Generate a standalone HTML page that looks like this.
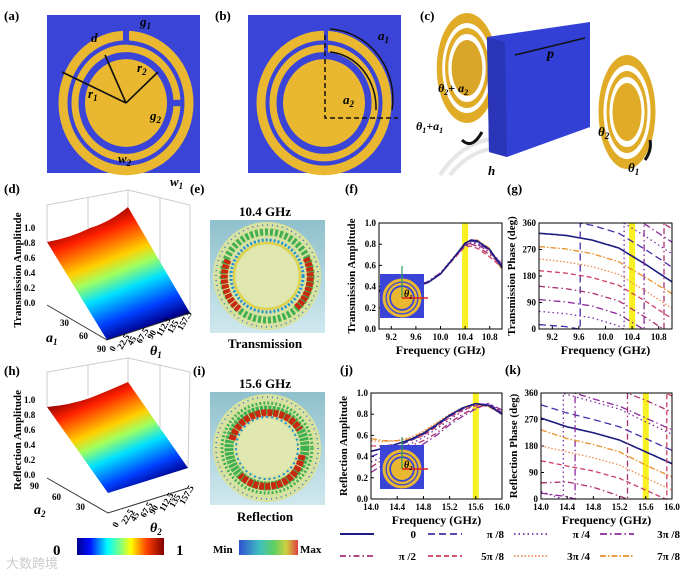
<!DOCTYPE html>
<html><head><meta charset="utf-8"><style>
html,body{margin:0;padding:0;background:#fff}
svg{display:block;font-family:"Liberation Serif",serif;font-weight:bold}
</style></head><body>
<svg id="fig" width="688" height="573" viewBox="0 0 688 573">
<defs>
<linearGradient id="jet" x1="0" y1="0" x2="1" y2="0">
<stop offset="0" stop-color="#00008f"/><stop offset="0.15" stop-color="#0010ff"/><stop offset="0.35" stop-color="#00ffff"/><stop offset="0.5" stop-color="#80ff80"/><stop offset="0.62" stop-color="#ffff00"/><stop offset="0.8" stop-color="#ff4000"/><stop offset="1" stop-color="#800000"/></linearGradient>
<linearGradient id="surfD" gradientUnits="userSpaceOnUse" x1="95" y1="215" x2="140" y2="330">
<stop offset="0" stop-color="#8a0000"/><stop offset="0.15" stop-color="#ff2000"/><stop offset="0.38" stop-color="#ffd000"/><stop offset="0.5" stop-color="#a0ff60"/><stop offset="0.65" stop-color="#00e0ff"/><stop offset="0.85" stop-color="#0040ff"/><stop offset="1" stop-color="#00008a"/></linearGradient>
<linearGradient id="surfH" gradientUnits="userSpaceOnUse" x1="95" y1="385" x2="140" y2="490">
<stop offset="0" stop-color="#8a0000"/><stop offset="0.15" stop-color="#ff2000"/><stop offset="0.38" stop-color="#ffd000"/><stop offset="0.5" stop-color="#a0ff60"/><stop offset="0.65" stop-color="#00e0ff"/><stop offset="0.85" stop-color="#0040ff"/><stop offset="1" stop-color="#00008a"/></linearGradient>
<linearGradient id="minmax" x1="0" y1="0" x2="1" y2="0">
<stop offset="0" stop-color="#3050d0"/><stop offset="0.35" stop-color="#40c0c0"/><stop offset="0.6" stop-color="#60d060"/><stop offset="0.8" stop-color="#d0d040"/><stop offset="1" stop-color="#e04040"/></linearGradient>
<linearGradient id="fieldbg" x1="0" y1="0" x2="0" y2="1"><stop offset="0" stop-color="#8fc0cc"/><stop offset="1" stop-color="#cfe8ee"/></linearGradient>
</defs>

<!-- (a) -->
<text x="4" y="20" font-size="13">(a)</text>
<g>
<rect x="47" y="15" width="153" height="158" fill="#3a45d8"/>
<g transform="translate(126,103) scale(1,1.07)">
<circle r="63" fill="none" stroke="#e9b830" stroke-width="9"/>
<circle r="51" fill="none" stroke="#e9b830" stroke-width="7"/>
<circle r="41" fill="#e9b830"/>
<rect x="-3" y="-70" width="6" height="12" fill="#3a45d8"/>
<rect x="46" y="-3" width="12" height="6" fill="#3a45d8"/>
</g>
<g stroke="#111" stroke-width="1.6" fill="none">
<line x1="126" y1="103" x2="62" y2="72"/><line x1="126" y1="103" x2="105" y2="55"/><line x1="126" y1="103" x2="158" y2="72"/>
</g>
<text x="88" y="98" font-size="13" font-style="italic">r<tspan font-size="9" dy="3">1</tspan></text>
<text x="137" y="72" font-size="13" font-style="italic">r<tspan font-size="9" dy="3">2</tspan></text>
<text x="91" y="42" font-size="13" font-style="italic">d</text>
<text x="140" y="26" font-size="13" font-style="italic">g<tspan font-size="9" dy="3">1</tspan></text>
<text x="150" y="120" font-size="13" font-style="italic">g<tspan font-size="9" dy="3">2</tspan></text>
<text x="118" y="163" font-size="13" font-style="italic">w<tspan font-size="9" dy="3">2</tspan></text>
<text x="170" y="186" font-size="13" font-style="italic">w<tspan font-size="9" dy="3">1</tspan></text>
</g>

<!-- (b) -->
<text x="215" y="20" font-size="13">(b)</text>
<g>
<rect x="248" y="15" width="153" height="158" fill="#3a45d8"/>
<g transform="translate(324,103) scale(1,1.07)">
<circle r="63" fill="none" stroke="#e9b830" stroke-width="9"/>
<circle r="51" fill="none" stroke="#e9b830" stroke-width="7"/>
<circle r="41" fill="#e9b830"/>
<rect x="0" y="-70" width="4" height="12" fill="#3a45d8"/>
<rect x="0" y="-57" width="4" height="10" fill="#3a45d8"/>
</g>
<g stroke="#111" stroke-width="1.5" fill="none">
<path d="M325 35 V118 H398" stroke-dasharray="5,3"/>
<path d="M330 29 A67 70 0 0 1 392 110"/><path d="M330 52 A50 56 0 0 1 376 110"/>
</g>
<text x="378" y="40" font-size="13" font-style="italic">a<tspan font-size="9" dy="3">1</tspan></text>
<text x="343" y="104" font-size="13" font-style="italic">a<tspan font-size="9" dy="3">2</tspan></text>
</g>

<!-- (c) -->
<text x="420" y="20" font-size="13">(c)</text>
<g>
<path d="M440 175 Q470 130 520 140 M450 175 Q478 140 520 150" stroke="#e6e6e6" stroke-width="4" fill="none"/>
<g transform="translate(467,68) scale(0.55,1)"><circle r="50" fill="none" stroke="#e0ac28" stroke-width="10"/><circle r="37" fill="none" stroke="#e0ac28" stroke-width="6"/><circle r="28" fill="#d9a628"/></g>
<path d="M487 37 L590 22 L590 127 L507 157 L489 152 Z" fill="#3340d6"/>
<path d="M487 37 L505 42 L507 157 L489 152 Z" fill="#2a35b8"/>
<g transform="translate(627,112) scale(0.5,1)"><circle r="52" fill="none" stroke="#e0ac28" stroke-width="10"/><circle r="38" fill="none" stroke="#e0ac28" stroke-width="6"/><circle r="29" fill="#e0ac28"/></g>
<path d="M515 55 L585 38" stroke="#111" stroke-width="1.5"/>
<text x="547" y="58" font-size="14" font-style="italic">p</text>
<text x="488" y="175" font-size="13" font-style="italic">h</text>
<text x="438" y="92" font-size="12" font-style="italic">θ<tspan font-size="8" dy="3">2</tspan><tspan dy="-3">+ a</tspan><tspan font-size="8" dy="3">2</tspan></text>
<text x="416" y="130" font-size="12" font-style="italic">θ<tspan font-size="8" dy="3">1</tspan><tspan dy="-3">+a</tspan><tspan font-size="8" dy="3">1</tspan></text>
<text x="598" y="136" font-size="13" font-style="italic">θ<tspan font-size="9" dy="3">2</tspan></text>
<text x="628" y="172" font-size="13" font-style="italic">θ<tspan font-size="9" dy="3">1</tspan></text>
<path d="M462 140 Q472 150 482 132" stroke="#111" stroke-width="3" fill="none"/>
<path d="M645 160 Q652 150 650 140" stroke="#111" stroke-width="3" fill="none"/>
</g>

<!-- (d) -->
<text x="4" y="193" font-size="13">(d)</text>
<g>
<path d="M47 242 L47 205 L128 190 L128 207 M128 190 L190 205 L190 313 M88 198 L88 228 M160 198 L160 262" stroke="#ccc" fill="none"/>
<path d="M47 242 Q70 238 90 228 Q110 222 128 207 L190 313 L107 340 Z" fill="url(#surfD)"/>
<path d="M47 305 L107 340 L190 313" stroke="#333" fill="none"/>
<g font-size="9"><text x="24" y="231">1.0</text><text x="24" y="246">0.8</text><text x="24" y="261">0.6</text><text x="24" y="276">0.4</text><text x="24" y="291">0.2</text><text x="24" y="306">0.0</text>
<text x="60" y="326">30</text><text x="79" y="339">60</text><text x="97" y="352">90</text>
<text x="46" y="342" font-size="14" font-style="italic">a<tspan font-size="9" dy="3">1</tspan></text>
<text x="150" y="355" font-size="14" font-style="italic">θ<tspan font-size="9" dy="3">1</tspan></text>
<text transform="translate(114,352) rotate(-60)">0</text>
<text transform="translate(122,350) rotate(-60)">22.5</text>
<text transform="translate(132,346) rotate(-60)">45</text>
<text transform="translate(141,344) rotate(-60)">67.5</text>
<text transform="translate(152,340) rotate(-60)">90</text>
<text transform="translate(161,337) rotate(-60)">112.5</text>
<text transform="translate(172,334) rotate(-60)">135</text>
<text transform="translate(182,331) rotate(-60)">157.5</text></g>
<text transform="translate(21,270) rotate(-90)" text-anchor="middle" font-size="11">Transmission Amplitude</text>
</g>

<!-- (e) -->
<text x="190" y="193" font-size="13">(e)</text>
<text x="265" y="216" font-size="13" text-anchor="middle">10.4 GHz</text>
<g>
<rect x="210" y="220" width="115" height="113" fill="url(#fieldbg)"/>
<circle cx="267" cy="276" r="54" fill="#d8e2a0"/>
<circle cx="267" cy="276" r="51" fill="none" stroke="#3070d0" stroke-width="1.5" stroke-dasharray="1,4"/>
<circle cx="267" cy="276" r="44" fill="none" stroke="#40b050" stroke-width="7" stroke-dasharray="3,2"/>
<path d="M228 260 A42 42 0 0 0 240 310 M306 258 A42 42 0 0 1 296 308" stroke="#c82a10" stroke-width="7" fill="none" stroke-dasharray="4,1"/>
<circle cx="267" cy="276" r="36" fill="none" stroke="#2090d0" stroke-width="3" stroke-dasharray="2,2"/>
<circle cx="267" cy="276" r="33" fill="none" stroke="#e0d040" stroke-width="2"/>
<circle cx="267" cy="276" r="31" fill="#e0e8b0"/>
</g>
<text x="265" y="348" font-size="13" text-anchor="middle">Transmission</text>

<!-- (h) -->
<text x="4" y="375" font-size="13">(h)</text>
<g>
<path d="M47 407 L47 372 L128 358 L128 382 M128 358 L190 372 L188 468 M88 365 L88 396 M160 365 L160 428" stroke="#ccc" fill="none"/>
<path d="M47 407 Q70 405 90 398 Q110 390 128 382 L188 468 L108 493 Z" fill="url(#surfH)"/>
<path d="M47 478 L108 513 L188 488" stroke="#333" fill="none"/>
<g font-size="9"><text x="24" y="403">1.0</text><text x="24" y="418">0.8</text><text x="24" y="433">0.6</text><text x="24" y="448">0.4</text><text x="24" y="463">0.2</text><text x="24" y="478">0.0</text>
<text x="30" y="489">90</text><text x="52" y="500">60</text><text x="76" y="510">30</text>
<text x="34" y="514" font-size="14" font-style="italic">a<tspan font-size="9" dy="3">2</tspan></text>
<text x="150" y="532" font-size="14" font-style="italic">θ<tspan font-size="9" dy="3">2</tspan></text>
<text transform="translate(117,528) rotate(-60)">0</text>
<text transform="translate(126,525) rotate(-60)">22.5</text>
<text transform="translate(135,522) rotate(-60)">45</text>
<text transform="translate(145,518) rotate(-60)">67.5</text>
<text transform="translate(154,515) rotate(-60)">90</text>
<text transform="translate(164,512) rotate(-60)">112.5</text>
<text transform="translate(174,508) rotate(-60)">135</text>
<text transform="translate(184,505) rotate(-60)">157.5</text></g>
<text transform="translate(21,440) rotate(-90)" text-anchor="middle" font-size="11">Reflection Amplitude</text>
</g>
<g>
<text x="53" y="555" font-size="15">0</text>
<rect x="77" y="538" width="87" height="17" fill="url(#jet)"/>
<text x="176" y="555" font-size="15">1</text>
</g>

<!-- (i) -->
<text x="193" y="375" font-size="13">(i)</text>
<text x="265" y="388" font-size="13" text-anchor="middle">15.6 GHz</text>
<g>
<rect x="210" y="392" width="115" height="113" fill="url(#fieldbg)"/>
<circle cx="267" cy="448" r="54" fill="#d8e2a0"/>
<circle cx="267" cy="448" r="51" fill="none" stroke="#3070d0" stroke-width="1.5" stroke-dasharray="1,4"/>
<circle cx="267" cy="448" r="45" fill="none" stroke="#40b050" stroke-width="3" stroke-dasharray="2,2"/>
<circle cx="267" cy="448" r="38" fill="none" stroke="#40b050" stroke-width="9" stroke-dasharray="3,1"/>
<path d="M232 440 A37 35 0 0 1 300 430 M302 455 A36 36 0 0 1 240 475" stroke="#c82a10" stroke-width="7" fill="none" stroke-dasharray="5,1"/>
<circle cx="267" cy="448" r="31" fill="none" stroke="#2090d0" stroke-width="2" stroke-dasharray="2,3"/>
<circle cx="267" cy="448" r="29" fill="#e0e8b0"/>
</g>
<text x="265" y="521" font-size="13" text-anchor="middle">Reflection</text>
<g>
<text x="213" y="553" font-size="11">Min</text>
<rect x="239" y="540" width="59" height="15" fill="url(#minmax)"/>
<text x="300" y="553" font-size="11">Max</text>
</g>

<text x="345" y="193" font-size="13">(f)</text>
<text x="507" y="193" font-size="13">(g)</text>
<text x="340" y="374" font-size="13">(j)</text>
<text x="505" y="374" font-size="13">(k)</text>
<text x="6" y="568" font-size="13" fill="#ccc" font-weight="normal" font-family="Liberation Sans,Noto Sans CJK SC,sans-serif">大数跨境</text>
<g id="charts"></g>
</svg>
<script>
// ---- data ----
const freqF = [9.0,9.2,9.4,9.6,9.8,10.0,10.2,10.4,10.5,10.6,10.8,11.0];
const ampT0 = [0.36,0.37,0.38,0.40,0.44,0.52,0.66,0.80,0.84,0.84,0.76,0.56];
const ampT1 = [0.36,0.37,0.38,0.40,0.44,0.52,0.66,0.80,0.83,0.82,0.73,0.56];
const ampT2 = [0.35,0.36,0.38,0.40,0.44,0.52,0.65,0.78,0.78,0.76,0.68,0.58];
const ampT3 = [0.36,0.37,0.38,0.40,0.44,0.52,0.66,0.78,0.80,0.78,0.70,0.60];
const ampT4 = [0.37,0.37,0.38,0.40,0.45,0.53,0.66,0.79,0.81,0.80,0.72,0.62];
const ampT5 = [0.37,0.38,0.39,0.41,0.45,0.53,0.67,0.80,0.82,0.81,0.74,0.62];
const ampT6 = [0.36,0.37,0.38,0.40,0.44,0.52,0.66,0.80,0.83,0.82,0.74,0.60];
const ampT7 = [0.36,0.37,0.38,0.40,0.44,0.52,0.66,0.81,0.84,0.83,0.75,0.58];
const freqG = [9.0,9.4,9.8,10.2,10.6,11.0];
const phT0 = [325,318,302,275,220,160];
const phT1 = [15,8,-8,-35,-90,-150];
const phT2 = [60,52,38,10,-45,-105];
const phT3 = [100,92,78,50,-5,-65];
const phT4 = [145,137,122,95,40,-20];
const phT5 = [198,190,175,148,95,35];
const phT6 = [238,228,212,185,130,70];
const phT7 = [280,272,256,228,175,120];
const freqJ = [14.0,14.2,14.4,14.6,14.8,15.0,15.2,15.4,15.6,15.8,16.0];
const ampR0 = [0.57,0.55,0.55,0.57,0.63,0.71,0.79,0.85,0.89,0.87,0.80];
const ampR1 = [0.55,0.54,0.55,0.58,0.64,0.72,0.80,0.86,0.89,0.88,0.80];
const ampR2 = [0.50,0.50,0.52,0.55,0.60,0.68,0.77,0.84,0.88,0.88,0.82];
const ampR3 = [0.30,0.38,0.45,0.50,0.55,0.62,0.72,0.80,0.86,0.89,0.83];
const ampR4 = [0.25,0.33,0.40,0.46,0.52,0.60,0.70,0.78,0.85,0.90,0.84];
const ampR5 = [0.35,0.40,0.46,0.52,0.58,0.66,0.75,0.83,0.89,0.90,0.82];
const ampR6 = [0.40,0.45,0.50,0.55,0.61,0.69,0.78,0.85,0.90,0.89,0.81];
const ampR7 = [0.45,0.48,0.52,0.56,0.62,0.70,0.79,0.86,0.90,0.88,0.80];
const freqK = [14.0,14.4,14.8,15.2,15.6,16.0];
const phR0 = [275,245,225,200,160,120];
const phR1 = [320,292,270,245,205,165];
const phR2 = [385,355,330,305,262,220];
const phR3 = [20,8,-20,-45,-85,-125];
const phR4 = [55,58,40,10,-25,-65];
const phR5 = [130,112,95,70,30,-10];
const phR6 = [180,160,140,115,72,30];
const phR7 = [235,205,185,160,115,75];
const stateLabels = ["0","π /8","π /4","3π /8","π /2","5π /8","3π /4","7π /8"];
const ticksFreqF = [9.2,9.6,10.0,10.4,10.8];
const ticksFreqJ = [14.0,14.4,14.8,15.2,15.6,16.0];
const ticksAmp = [0,0.2,0.4,0.6,0.8,1.0];
const ticksPhase = [0,90,180,270,360];
const highlightF = 10.4, highlightJ = 15.6;

// ---- styles ----
const colors = ["#1c1c80","#4a2ca8","#7a2aa8","#8a2a9a","#a83070","#d04060","#f08a50","#e8902a"];
const dashes = ["","7,4","1.5,3","7,3,1.5,3","6,3,1.5,3","5,3","1.5,2","6,2,1.5,2"];
const NS = "http://www.w3.org/2000/svg";
const root = document.getElementById("charts");
function mk(tag, attrs, parent){const e=document.createElementNS(NS,tag);for(const k in attrs)e.setAttribute(k,attrs[k]);(parent||root).appendChild(e);return e;}

function makeAxes(box, xmin, xmax, ymin, ymax){
  return {sx:v=>box.x0+(v-xmin)/(xmax-xmin)*(box.x1-box.x0), sy:v=>box.y0-(v-ymin)/(ymax-ymin)*(box.y0-box.y1), box:box};
}
function drawFrame(ax, name, xt, yt, xfmt, yfmt, ytitle, hl){
  const g = mk("g",{});
  
  
  const b = ax.box;
  const band = mk("rect",{x:ax.sx(hl)-3,y:b.y1,width:6,height:b.y0-b.y1,fill:"#f8f020"},g);
  
  
  xt.forEach(v=>{
    mk("line",{x1:ax.sx(v),x2:ax.sx(v),y1:b.y0,y2:b.y0-3,stroke:"#000"},g);
    const t=mk("text",{x:ax.sx(v),y:b.y0+11,"font-size":9,"text-anchor":"middle"},g);
    
    
    t.textContent=xfmt(v);
  });
  yt.forEach(v=>{
    mk("line",{x1:b.x0,x2:b.x0+3,y1:ax.sy(v),y2:ax.sy(v),stroke:"#000"},g);
    const t=mk("text",{x:b.x0-3,y:ax.sy(v)+3,"font-size":9,"text-anchor":"end"},g);
    
    
    t.textContent=yfmt(v);
  });
  const xl=mk("text",{x:(b.x0+b.x1)/2,y:b.y0+25,"font-size":12,"text-anchor":"middle"},g);
  
  
  xl.textContent="Frequency (GHz)";
  const yl=mk("text",{transform:`translate(${b.x0-24},${(b.y0+b.y1)/2}) rotate(-90)`,"font-size":11,"text-anchor":"middle"},g);
  
  
  yl.textContent=ytitle;
  return g;
}
function finishFrame(ax,g){
  const b=ax.box;
  mk("rect",{x:b.x0,y:b.y1,width:b.x1-b.x0,height:b.y0-b.y1,fill:"none",stroke:"#000","stroke-width":1},g);
}
function drawLine(ax, xs, ys, i, g){
  const d = xs.map((x,k)=>(k?"L":"M")+ax.sx(x).toFixed(1)+" "+ax.sy(ys[k]).toFixed(1)).join(" ");
  const p=mk("path",{d:d,fill:"none",stroke:colors[i],"stroke-width":i?1.3:1.6,"stroke-dasharray":dashes[i]},g);
  
  
}
var prev=0;
function drawPhase(ax, xs, ys, i, g){
  let d="";
  const N=20;
  const w=v=>((v%360)+360)%360;
  for(let k=0;k<xs.length-1;k++){
    for(let s=0;s<=N;s++){
      if(k>0&&s===0) continue;
      const t=s/N, x=xs[k]+(xs[k+1]-xs[k])*t, raw=ys[k]+(ys[k+1]-ys[k])*t;
      const v=w(raw);
      if(d===""){d="M"+ax.sx(x).toFixed(1)+" "+ax.sy(v).toFixed(1);prev=v;continue;}
      if(Math.abs(v-prev)>180){
        const edge=prev>v?360:0, other=360-edge;
        d+=" L"+ax.sx(x).toFixed(1)+" "+ax.sy(edge).toFixed(1)+" L"+ax.sx(x).toFixed(1)+" "+ax.sy(other).toFixed(1);
      }
      d+=" L"+ax.sx(x).toFixed(1)+" "+ax.sy(v).toFixed(1);
      prev=v;
    }
  }
  const p=mk("path",{d:d,fill:"none",stroke:colors[i],"stroke-width":i?1.3:1.6,"stroke-dasharray":dashes[i]},g);
  
  
}
function inset(x,y,g,label){
  const ig=mk("g",{},g);
  
  
  mk("rect",{x:x,y:y,width:44,height:44,fill:"#3a45d8"},ig);
  mk("circle",{cx:x+22,cy:y+24,r:18,fill:"none",stroke:"#e9b830","stroke-width":3},ig);
  mk("circle",{cx:x+22,cy:y+24,r:14,fill:"none",stroke:"#e9b830","stroke-width":2.5},ig);
  mk("circle",{cx:x+22,cy:y+24,r:11,fill:"#e9b830"},ig);
  mk("line",{x1:x+22,y1:y+24,x2:x+22,y2:y-8,stroke:"#2a9a5a","stroke-width":1.2},ig);
  mk("line",{x1:x+22,y1:y+24,x2:x+48,y2:y+24,stroke:"#e02020","stroke-width":1.5},ig);
  const t=mk("text",{x:x+24,y:y+23,"font-size":10,"font-style":"italic"},ig);
  t.textContent=label;
}

const ampT=[ampT0,ampT1,ampT2,ampT3,ampT4,ampT5,ampT6,ampT7];
const phT=[phT0,phT1,phT2,phT3,phT4,phT5,phT6,phT7];
const ampR=[ampR0,ampR1,ampR2,ampR3,ampR4,ampR5,ampR6,ampR7];
const phR=[phR0,phR1,phR2,phR3,phR4,phR5,phR6,phR7];

const axF=makeAxes({x0:379,x1:502,y0:329,y1:223},9,11,0,1);
let g=drawFrame(axF,"transmission-amplitude-chart",ticksFreqF,ticksAmp,v=>v.toFixed(1),v=>v.toFixed(1),"Transmission Amplitude",highlightF);
ampT.forEach((s,i)=>drawLine(axF,freqF,s,7-i,g));
inset(380,274,g,"θ₁"); finishFrame(axF,g);

const axG=makeAxes({x0:539,x1:672,y0:329,y1:223},9,11,0,360);
g=drawFrame(axG,"transmission-phase-chart",ticksFreqF,ticksPhase,v=>v.toFixed(1),v=>String(v),"Transmission Phase (deg)",highlightF);
phT.forEach((s,i)=>drawPhase(axG,freqG,s,i,g)); finishFrame(axG,g);

const axJ=makeAxes({x0:371,x1:502,y0:499,y1:393},14,16,0,1);
g=drawFrame(axJ,"reflection-amplitude-chart",ticksFreqJ,ticksAmp,v=>v.toFixed(1),v=>v.toFixed(1),"Reflection Amplitude",highlightJ);
ampR.forEach((s,i)=>drawLine(axJ,freqJ,s,7-i,g));
inset(380,445,g,"θ₂"); finishFrame(axJ,g);

const axK=makeAxes({x0:541,x1:672,y0:499,y1:393},14,16,0,360);
g=drawFrame(axK,"reflection-phase-chart",ticksFreqJ,ticksPhase,v=>v.toFixed(1),v=>String(v),"Reflection Phase (deg)",highlightJ);
phR.forEach((s,i)=>drawPhase(axK,freqK,s,i,g)); finishFrame(axK,g);

// legend
const lg=mk("g",{});


const colX=[340,428,514,600];
stateLabels.forEach((lab,i)=>{
  const r=Math.floor(i/4), c=i%4, y=r?560:538, x=colX[c];
  const e=mk("g",{},lg);
  
  
  mk("line",{x1:x,y1:y-4,x2:x+34,y2:y-4,stroke:colors[i],"stroke-width":i?1.8:2,"stroke-dasharray":dashes[i]},e);
  const t=mk("text",{x:x+(c===3?80:76),y:y,"font-size":11,"text-anchor":"end"},e);
  t.textContent=lab;
});
</script>
</body></html>
